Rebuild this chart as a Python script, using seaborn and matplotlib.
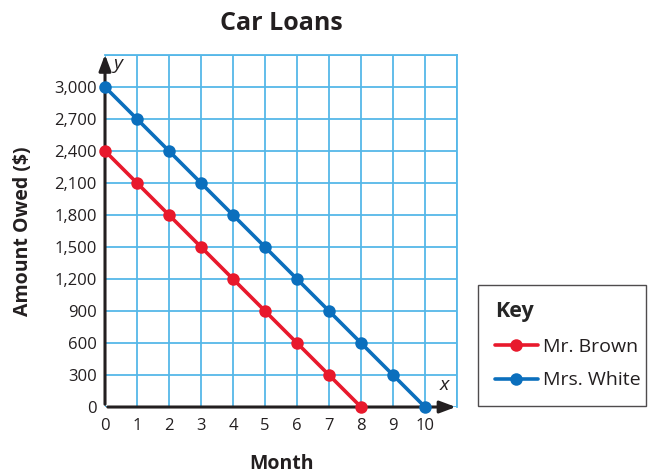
import matplotlib
matplotlib.use("Agg")
import matplotlib.pyplot as plt
import seaborn as sns
import pandas as pd

months_brown = [0, 1, 2, 3, 4, 5, 6, 7, 8]
owed_brown = [2400, 2100, 1800, 1500, 1200, 900, 600, 300, 0]
months_white = [0, 1, 2, 3, 4, 5, 6, 7, 8, 9, 10]
owed_white = [3000, 2700, 2400, 2100, 1800, 1500, 1200, 900, 600, 300, 0]
series_names = ["Mr. Brown", "Mrs. White"]
x_ticks = list(range(0, 11))
y_ticks = list(range(0, 3001, 300))

df = pd.concat([
    pd.DataFrame({"Month": months_brown, "Owed": owed_brown, "Who": series_names[0]}),
    pd.DataFrame({"Month": months_white, "Owed": owed_white, "Who": series_names[1]}),
])

sns.set_theme(style="white")
plt.rcParams['font.family'] = ['Open Sans', 'DejaVu Sans']

RED = "#e8192c"
BLUE = "#0b6fbd"
GRID = "#55b7e8"
INK = "#231f20"

fig = plt.figure(figsize=(6.49, 4.73), dpi=100)
ax = fig.add_axes([0.1618, 0.1395, 0.5424, 0.7442])

sns.lineplot(data=df, x="Month", y="Owed", hue="Who",
             palette={series_names[0]: RED, series_names[1]: BLUE},
             marker="o", markersize=9, markeredgewidth=0, linewidth=2.6,
             ax=ax, zorder=5, clip_on=False)

ax.set_xlim(0, 11)
ax.set_ylim(0, 3300)
ax.set_xticks(list(range(0, 12)))
ax.set_yticks(list(range(0, 3301, 300)))
ax.set_xticklabels([str(t) for t in x_ticks] + [""])
ax.set_yticklabels([f"{t:,}" for t in y_ticks] + [""])
ax.grid(True, color=GRID, linewidth=1.3)
ax.set_axisbelow(True)
for s in ["top", "right"]:
    ax.spines[s].set_visible(True)
    ax.spines[s].set_color(GRID)
    ax.spines[s].set_linewidth(1.3)
for s in ["left", "bottom"]:
    ax.spines[s].set_visible(False)

ax.tick_params(axis="y", length=0, labelsize=12, colors=INK, pad=6)
ax.tick_params(axis="x", length=0, labelsize=12, colors=INK, pad=8)

# axes with arrows
ax.annotate("", xy=(11.05, 0), xytext=(0, 0),
            arrowprops=dict(arrowstyle="-|>,head_length=0.8,head_width=0.3", color=INK, lw=2.2),
            annotation_clip=False, zorder=4)
ax.annotate("", xy=(0, 3330), xytext=(0, 0),
            arrowprops=dict(arrowstyle="-|>,head_length=0.8,head_width=0.3", color=INK, lw=2.2),
            annotation_clip=False, zorder=4)
ax.text(0.28, 3220, "y", fontsize=14, style="italic", color=INK, va="center", ha="left")
ax.text(10.6, 210, "x", fontsize=14, style="italic", color=INK, va="center", ha="center")

ax.set_xlabel("Month", fontsize=14, fontweight="bold", color=INK, labelpad=14)
ax.set_ylabel("Amount Owed ($)", fontsize=14, fontweight="bold", color=INK, labelpad=15)
ax.set_title("Car Loans", fontsize=18, fontweight="bold", color=INK, pad=18)

h, l = ax.get_legend_handles_labels()
leg = ax.legend(h, l, title="Key", loc="lower left",
                bbox_to_anchor=(0.737, 0.142, 0.258, 0.26), bbox_transform=fig.transFigure,
                mode="expand", frameon=True, fancybox=False, fontsize=14,
                title_fontproperties={"weight": "bold", "size": 15.5},
                alignment="left", borderpad=0.85, labelspacing=0.8, handlelength=2.2,
                handletextpad=0.3, borderaxespad=0)
leg.get_frame().set_edgecolor(INK)
leg.get_frame().set_linewidth(1.0)
for t in leg.get_texts():
    t.set_color(INK)

fig.savefig("out.png", dpi=100)
